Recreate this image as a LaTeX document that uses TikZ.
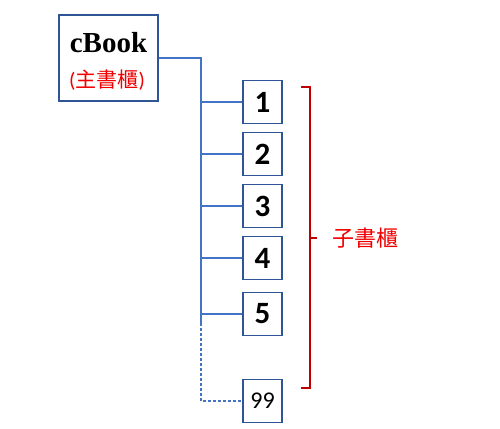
\documentclass[tikz,border=0pt]{standalone}
\usepackage{fontspec}
\setmainfont{Carlito}
\newfontfamily\cjk{Noto Sans CJK TC}
\newfontfamily\serif{Liberation Serif}
\usetikzlibrary{calc}
\definecolor{boxblue}{RGB}{47,85,151}
\definecolor{lineblue}{RGB}{68,114,196}
\definecolor{titlered}{RGB}{240,0,0}
\definecolor{bracered}{RGB}{192,0,0}
\tikzset{
  mainbox/.style={draw=boxblue, line width=1.6pt, minimum width=99pt, minimum height=86pt, inner sep=0pt},
  shelf/.style={draw=boxblue, line width=1.6pt, minimum width=39pt, minimum height=43pt, inner sep=0pt,
    font=\fontsize{31}{32}\selectfont\bfseries},
  conn/.style={draw=lineblue, line width=1.4pt},
  brace/.style={draw=bracered, line width=1.5pt},
}

\begin{document}
\begin{tikzpicture}[x=1pt,y=-1pt]
		%%%%% START %%%%%
		
		\useasboundingbox (0,0) rectangle (500,428);
		
		\node[mainbox] (cbook) at (108.5,58) {};
		\node[font=\serif\fontsize{29}{30}\selectfont\bfseries] (cbookname) at (108.5,43) {cBook};
		\node[text=titlered, font=\fontsize{21}{24}\selectfont] (cbookmain) at (107,80) {(\cjk 主書櫃\normalfont)};
		
		\node[shelf] (b1) at (262.5,102) {1};
		\node[shelf] (b2) at (262.5,154) {2};
		\node[shelf] (b3) at (262.5,206) {3};
		\node[shelf] (b4) at (262.5,258) {4};
		\node[shelf] (b5) at (262.5,314) {5};
		\node[shelf, font=\fontsize{24}{26}\selectfont] (b99) at (262.5,401) {99};
		
		\coordinate (trunk) at (201,323);
		\draw[conn] (cbook.east) -| (trunk);
		\draw[conn, dash pattern=on 3pt off 2pt] (trunk) |- (b99.west);
		\foreach \n in {1,...,5}
			\draw[conn] (b\n.west) -- (b\n.west -| trunk);
		
		\coordinate (bracetop) at (310,87);
		\coordinate (bracebot) at (310,388);
		\coordinate (bracemid) at (310,238);
		\draw[brace] ($(bracetop)+(-9,0)$) -- (bracetop) -- (bracebot) -- ++(-9,0);
		\draw[brace] (bracemid) -- ++(7,0);
		\node[text=titlered, font=\cjk\fontsize{22}{24}\selectfont, anchor=west] (subshelf) at (329,238) {子書櫃};
		
		%%%%% END %%%%%
	\end{tikzpicture}
\end{document}
